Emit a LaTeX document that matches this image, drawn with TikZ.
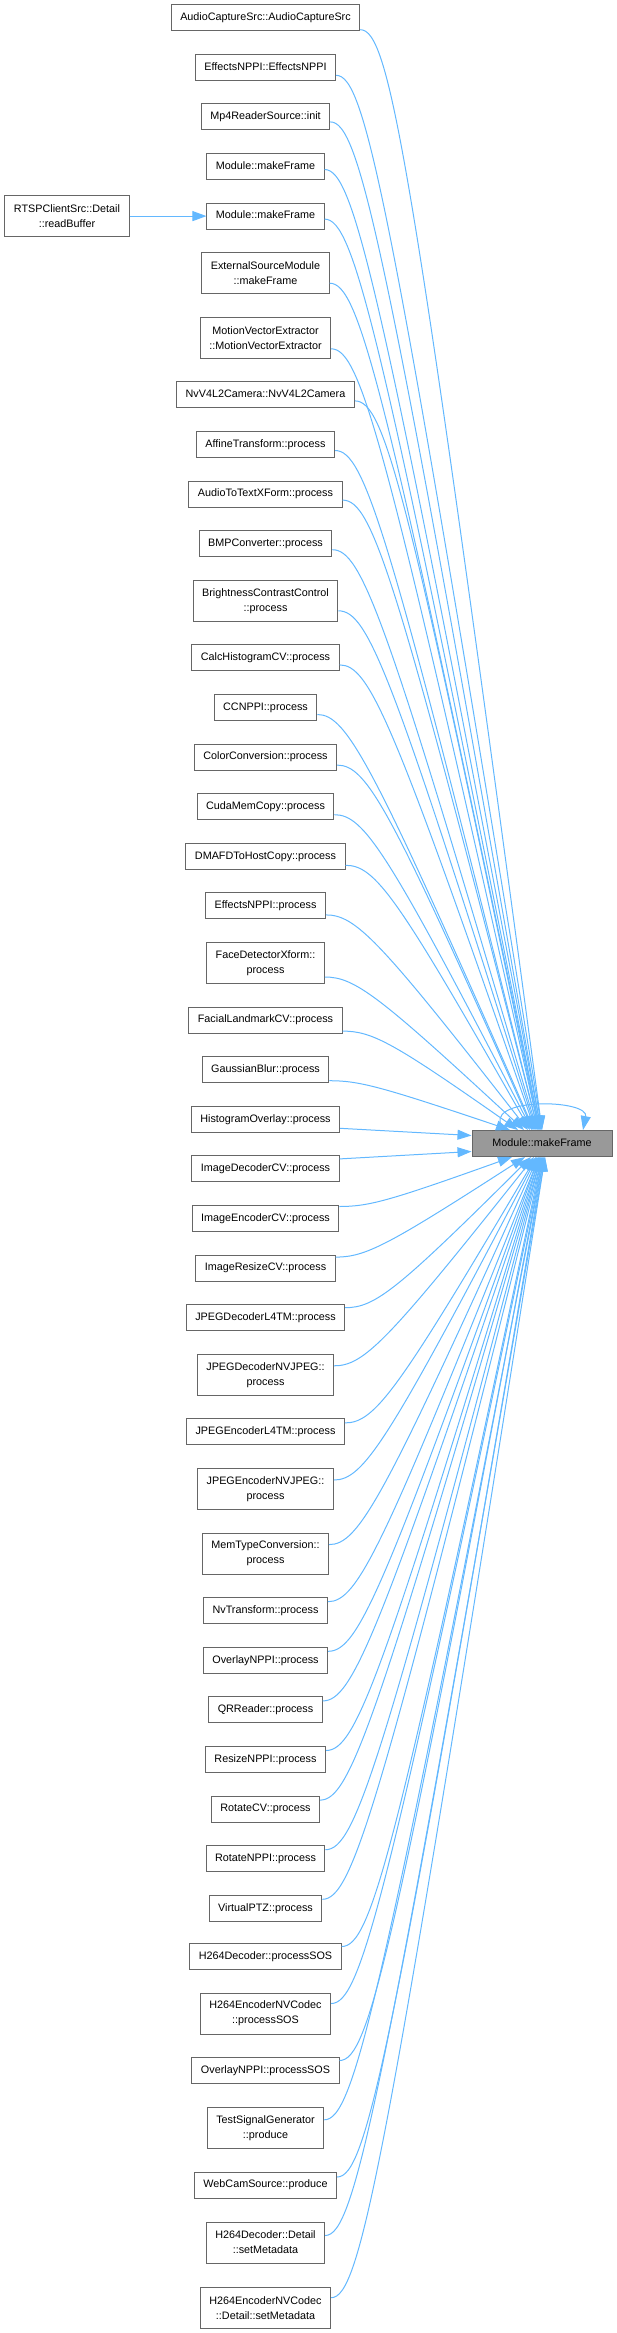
\documentclass[tikz,border=0pt]{standalone}
\usepackage{fontspec}
\setmainfont{Liberation Sans}
\usetikzlibrary{arrows.meta,calc}

\definecolor{callblue}{HTML}{63B8FF}
\definecolor{boxgrey}{HTML}{666666}
\definecolor{focusgrey}{HTML}{999999}

\tikzset{
  fnbox/.style={draw=boxgrey, fill=white, line width=1pt, inner xsep=9pt, inner ysep=0pt},
  fn/.style={fnbox, minimum height=26pt, text height=7.9pt, text depth=2.3pt},
  fntwo/.style={fnbox, minimum height=41pt, align=center},
  call/.style={callblue, line width=1pt, -{Triangle[length=14pt, width=10pt]}}
}

\begin{document}
\begin{tikzpicture}[x=1pt, y=-1pt, font=\fontsize{10.8}{15}\selectfont]
\useasboundingbox (0,0) rectangle (617,2333);

% Called function
\node[fn, fill=focusgrey, minimum width=140pt] (mf) at (542, 1143.5) {Module::makeFrame};

% ---- Callers ----
\node[fn] (audiocap) at (265.5, 17.7) {AudioCaptureSrc::AudioCaptureSrc};
\node[fn] (effctor) at (265.5, 67.3) {EffectsNPPI::EffectsNPPI};
\node[fn] (mp4init) at (265.5, 116.9) {Mp4ReaderSource::init};
\node[fn] (mkframeA) at (265.5, 166.5) {Module::makeFrame};
\node[fn] (mkframeB) at (265.5, 216.1) {Module::makeFrame};
\node[fntwo] (extsrc) at (265.5, 273.2) {ExternalSourceModule\\::makeFrame};
\node[fntwo] (mvextract) at (265.5, 337.8) {MotionVectorExtractor\\::MotionVectorExtractor};
\node[fn] (nvcam) at (265.5, 394.9) {NvV4L2Camera::NvV4L2Camera};
\node[fn] (affine) at (265.5, 444.5) {AffineTransform::process};
\node[fn] (audiotext) at (265.5, 494.1) {AudioToTextXForm::process};
\node[fn] (bmpconv) at (265.5, 543.7) {BMPConverter::process};
\node[fntwo] (brightness) at (265.5, 600.8) {BrightnessContrastControl\\::process};
\node[fn] (calchist) at (265.5, 657.9) {CalcHistogramCV::process};
\node[fn] (ccnppi) at (265.5, 707.5) {CCNPPI::process};
\node[fn] (colorconv) at (265.5, 757.1) {ColorConversion::process};
\node[fn] (cudacopy) at (265.5, 806.7) {CudaMemCopy::process};
\node[fn] (dmafd) at (265.5, 856.3) {DMAFDToHostCopy::process};
\node[fn] (effproc) at (265.5, 905.9) {EffectsNPPI::process};
\node[fntwo] (facedet) at (265.5, 963) {FaceDetectorXform::\\process};
\node[fn] (faciallm) at (265.5, 1020.1) {FacialLandmarkCV::process};
\node[fn] (gauss) at (265.5, 1069.7) {GaussianBlur::process};
\node[fn] (histov) at (265.5, 1119.3) {HistogramOverlay::process};
\node[fn] (imgdec) at (265.5, 1168.9) {ImageDecoderCV::process};
\node[fn] (imgenc) at (265.5, 1218.5) {ImageEncoderCV::process};
\node[fn] (imgresize) at (265.5, 1268.1) {ImageResizeCV::process};
\node[fn] (jpegdecl4) at (265.5, 1317.7) {JPEGDecoderL4TM::process};
\node[fntwo] (jpegdecnv) at (265.5, 1374.8) {JPEGDecoderNVJPEG::\\process};
\node[fn] (jpegencl4) at (265.5, 1431.9) {JPEGEncoderL4TM::process};
\node[fntwo] (jpegencnv) at (265.5, 1489) {JPEGEncoderNVJPEG::\\process};
\node[fntwo] (memtype) at (265.5, 1553.6) {MemTypeConversion::\\process};
\node[fn] (nvtrans) at (265.5, 1610.7) {NvTransform::process};
\node[fn] (overlay) at (265.5, 1660.3) {OverlayNPPI::process};
\node[fn] (qrreader) at (265.5, 1709.9) {QRReader::process};
\node[fn] (resize) at (265.5, 1759.5) {ResizeNPPI::process};
\node[fn] (rotcv) at (265.5, 1809.1) {RotateCV::process};
\node[fn] (rotnppi) at (265.5, 1858.7) {RotateNPPI::process};
\node[fn] (vptz) at (265.5, 1908.3) {VirtualPTZ::process};
\node[fn] (h264decsos) at (265.5, 1956.5) {H264Decoder::processSOS};
\node[fntwo] (h264encsos) at (265.5, 2013.5) {H264EncoderNVCodec\\::processSOS};
\node[fn] (overlaysos) at (265.5, 2070.5) {OverlayNPPI::processSOS};
\node[fntwo] (testsig) at (265.5, 2127.8) {TestSignalGenerator\\::produce};
\node[fn] (webcam) at (265.5, 2185) {WebCamSource::produce};
\node[fntwo] (h264decmeta) at (265.5, 2242.5) {H264Decoder::Detail\\::setMetadata};
\node[fntwo] (h264encmeta) at (265.5, 2307.7) {H264EncoderNVCodec\\::Detail::setMetadata};

% ---- Caller of a caller ----
\node[fntwo] (rtsp) at (67, 216.1) {RTSPClientSrc::Detail\\::readBuffer};
\draw[call] (rtsp) -- (mkframeB);

% Calls arriving from above
\foreach \n/\sy/\ex in {audiocap/-12/0, effctor/-8/0, mp4init/-5/-1, mkframeA/-3/-1, mkframeB/-3/-2,
    extsrc/-10/-2, mvextract/-11/-3, nvcam/-6/-3, affine/-6/-4, audiotext/-6/-4, bmpconv/-6/-5,
    brightness/-10/-6, calchist/-7/-7, ccnppi/-7/-8, colorconv/-8/-9, cudacopy/-8/-10, dmafd/-9/-12,
    effproc/-9/-14, facedet/-14/-18, faciallm/-11/-24, gauss/-11/-32}
  \draw[call] ([yshift=\sy pt]\n.east) coordinate (s) .. controls +(30,0) and ($(s)!0.12!([xshift=\ex pt]mf.north)+(30,0)$) .. ([xshift=\ex pt]mf.north);

% Calls arriving from the side
\draw[call] ([yshift=-9pt]histov.east) -- ([yshift=8pt]mf.west);
\draw[call] ([yshift=10pt]imgdec.east) -- ([yshift=-8pt]mf.west);

% Calls arriving from below
\foreach \n/\sy/\ex in {imgenc/12/-30, imgresize/11/-17, jpegdecl4/10/-11, jpegdecnv/9/-8, jpegencl4/9/-6,
    jpegencnv/9/-5, memtype/9/-4, nvtrans/9/-3, overlay/9/-3, qrreader/9/-2, resize/9/-2, rotcv/9/-1,
    rotnppi/9/-1, vptz/9/0, h264decsos/10/0, h264encsos/10/1, overlaysos/10/1, testsig/8/2, webcam/8/2,
    h264decmeta/7/3, h264encmeta/10/3}
  \draw[call] ([yshift=\sy pt]\n.east) coordinate (s) .. controls +(30,0) and ($(s)!0.12!([xshift=\ex pt]mf.south)+(30,0)$) .. ([xshift=\ex pt]mf.south);

% Recursive call
\draw[call] ([xshift=-42pt, yshift=7pt]mf.north) .. controls +(-6,-26) and +(6,-30) .. ([xshift=41pt]mf.north);

\end{tikzpicture}
\end{document}
